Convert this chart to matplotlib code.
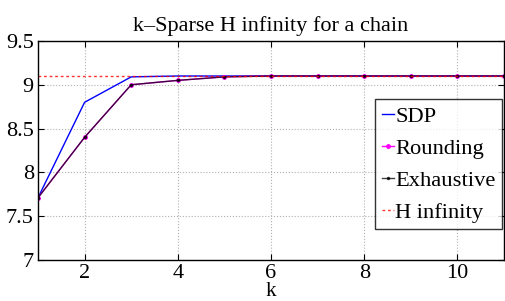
import matplotlib
matplotlib.use("Agg")
import matplotlib.pyplot as plt

k = [1, 2, 3, 4, 5, 6, 7, 8, 9, 10, 11]
sdp = [7.71, 8.80, 9.09, 9.10, 9.10, 9.10, 9.10, 9.10, 9.10, 9.10, 9.10]
rounding = [7.71, 8.40, 9.00, 9.05, 9.09, 9.10, 9.10, 9.10, 9.10, 9.10, 9.10]
exhaustive = [7.71, 8.40, 9.00, 9.05, 9.09, 9.10, 9.10, 9.10, 9.10, 9.10, 9.10]
hinf = 9.10

plt.rcParams['font.family'] = ['Liberation Serif', 'DejaVu Serif']

fig = plt.figure(figsize=(5.05, 3.01), dpi=100)
ax = fig.add_axes([0.0752, 0.136, 0.923, 0.728])

ax.plot(k, sdp, color='blue', lw=1.0, label='SDP')
ax.plot(k, rounding, color='magenta', lw=1.0, marker='.', ms=5, label='Rounding')
ax.plot(k, exhaustive, color='black', lw=1.0, marker='.', ms=3, label='Exhaustive', alpha=0.75)
ax.axhline(hinf, color='red', lw=1.0, ls=(0, (2, 2)), alpha=0.8, label='H infinity')

ax.set_xlim(1, 11)
ax.set_ylim(7, 9.5)
ax.set_xticks([2, 4, 6, 8, 10])
ax.set_yticks([7, 7.5, 8, 8.5, 9, 9.5])
ax.set_yticklabels(['7', '7.5', '8', '8.5', '9', '9.5'])
ax.grid(True, ls=':', color='#b0b0b0', lw=0.8)
ax.tick_params(direction='in', top=True, right=True, labelsize=16, length=4)
ax.tick_params(axis='x', pad=2.5)
ax.tick_params(axis='y', pad=3)
for s in ax.spines.values():
    s.set_linewidth(1.0)

ax.set_title('k\u2013Sparse H infinity for a chain', fontsize=16, pad=7)
ax.set_xlabel('k', fontsize=15, labelpad=-0.5)

leg = ax.legend(loc='upper left', bbox_to_anchor=(0.723, 0.735), fontsize=16.2, frameon=True,
                fancybox=False, edgecolor='black', handlelength=0.55, handletextpad=0.05,
                borderpad=0.3, labelspacing=0.5, borderaxespad=0)
leg.get_frame().set_linewidth(1.0)

fig.savefig('out.png', dpi=100)
